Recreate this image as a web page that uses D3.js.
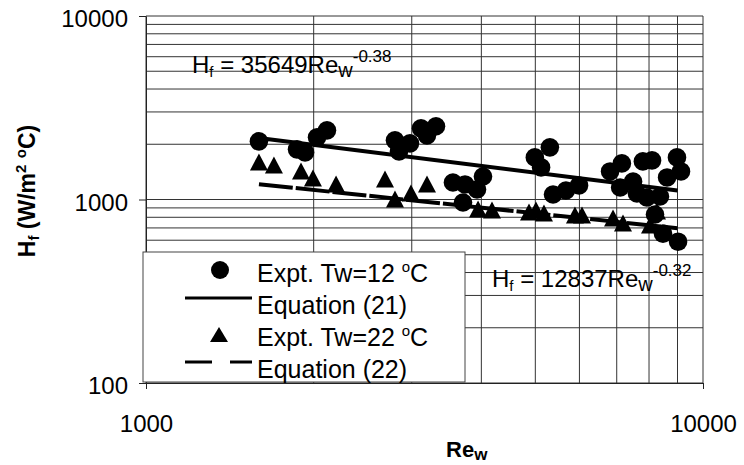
<!DOCTYPE html>
<html>
<head>
<meta charset="utf-8">
<script src="https://cdn.jsdelivr.net/npm/d3@7"></script>
<style>
    body { margin: 0; background: #fff; }
    svg { display: block; font-family: "Liberation Sans", Arial, sans-serif; }
    text { white-space: pre; }
</style>
</head>
<body>
<div id="chart"></div>
<script>
// Expt. Tw = 12 C (circles)
const reCold = [1595, 1867, 1930, 2028, 2113, 2799, 2846, 2978, 3117, 3195, 3316,
    3557, 3739, 4027, 3929, 3708, 4990, 5310, 5120, 5380, 5675, 5990,
    6810, 7150, 7800, 8100, 8980, 9130, 8620, 7100, 7610, 7930, 8370, 8200, 8475, 9020, 7490];
const hCold = [2074, 1876, 1806, 2182, 2382, 2101, 1829, 2023, 2443, 2237, 2506,
    1238, 1208, 1335, 1134, 963, 1696, 1924, 1496, 1065, 1120, 1193,
    1422, 1573, 1613, 1633, 1696, 1422, 1319, 1163, 1078, 1025, 1038, 828, 652, 589, 1254];

// Expt. Tw = 22 C (triangles)
const reWarm = [1595, 1697, 1898, 1994, 2194, 2686, 2799, 2990, 3195, 3946, 4180,
    4871, 5014, 5182, 5890, 6064, 6894, 7184, 8033, 8268];
const hWarm = [1593, 1534, 1422, 1303, 1208, 1287, 1000, 1078, 1208, 882, 871,
    849, 871, 838, 818, 818, 787, 739, 721, 860];

// fitted lines, end points
const eq21Re = [1595, 9000];
const eq21H = [2165, 1120];
const eq22Re = [1595, 9000];
const eq22H = [1212, 697];

const xTicks = [1000, 10000];
const yTicks = [100, 1000, 10000];
const legendItems = ["circle", "line", "triangle", "dash"];

function richText(sel, parts) {
    let shift = 0;
    parts.forEach(p => {
        const off = p.shift || 0;
        sel.append("tspan")
            .attr("dy", off - shift)
            .attr("font-size", p.size)
            .text(p.t);
        shift = off;
    });
}

function main() {
    const canvasWidth = 744;
    const canvasHeight = 465;
    const plot = { left: 146, right: 703, top: 16, bottom: 383 };

    const svg = d3.select("#chart").append("svg")
        .attr("width", canvasWidth)
        .attr("height", canvasHeight);

    const xScale = d3.scaleLog().domain([1000, 10000]).range([plot.left, plot.right]);
    const yScale = d3.scaleLog().domain([100, 10000]).range([plot.bottom, plot.top]);

    // grid
    const grid = svg.append("g");
    grid.selectAll(".vg").data(xScale.ticks()).enter().append("line")
        .attr("x1", d => xScale(d)).attr("x2", d => xScale(d))
        .attr("y1", plot.top).attr("y2", plot.bottom)
        .attr("stroke", "#333").attr("stroke-width", 1);
    grid.selectAll(".hg").data(yScale.ticks()).enter().append("line")
        .attr("x1", plot.left).attr("x2", plot.right)
        .attr("y1", d => yScale(d)).attr("y2", d => yScale(d))
        .attr("stroke", "#333").attr("stroke-width", 1);

    // axes
    const yAxis = svg.append("g")
        .attr("transform", "translate(" + plot.left + ",0)")
        .call(d3.axisLeft(yScale).tickValues(yTicks).tickSize(7).tickSizeOuter(0)
            .tickPadding(11).tickFormat(d3.format("d")));
    yAxis.selectAll("text").attr("font-size", 24).attr("fill", "#000").attr("dy", "0.45em")
        .attr("font-family", "Liberation Sans, Arial, sans-serif");

    const xAxis = svg.append("g")
        .attr("transform", "translate(0," + plot.bottom + ")")
        .call(d3.axisBottom(xScale).tickValues(xTicks).tickSize(6).tickSizeOuter(0)
            .tickPadding(26).tickFormat(d3.format("d")));
    xAxis.selectAll("text").attr("font-size", 24).attr("fill", "#000")
        .attr("font-family", "Liberation Sans, Arial, sans-serif");
    svg.selectAll(".domain, .tick line").attr("stroke", "#222");

    // fit lines
    const line = d3.line().x(d => xScale(d[0])).y(d => yScale(d[1]));
    svg.append("path")
        .datum(d3.zip(eq21Re, eq21H))
        .attr("d", line)
        .attr("stroke", "#000").attr("stroke-width", 4).attr("fill", "none");
    svg.append("path")
        .datum(d3.zip(eq22Re, eq22H))
        .attr("d", line)
        .attr("stroke", "#000").attr("stroke-width", 4).attr("fill", "none")
        .attr("stroke-dasharray", "34,3");

    // points
    svg.append("g").selectAll("circle")
        .data(d3.zip(reCold, hCold))
        .enter().append("circle")
        .attr("cx", d => xScale(d[0]))
        .attr("cy", d => yScale(d[1]))
        .attr("r", 9.3)
        .attr("fill", "#000");

    svg.append("g").selectAll("path")
        .data(d3.zip(reWarm, hWarm))
        .enter().append("path")
        .attr("d", "M0,-9L9,8L-9,8Z")
        .attr("transform", d => "translate(" + xScale(d[0]) + "," + yScale(d[1]) + ")")
        .attr("fill", "#000");

    // equations
    richText(svg.append("text").attr("x", 192).attr("y", 73), [
        { t: "H", size: 24 }, { t: "f", size: 15, shift: 4 },
        { t: " = 35649Re", size: 24 }, { t: "w", size: 20, shift: 4 },
        { t: "-0.38", size: 17, shift: -11 }
    ]);
    richText(svg.append("text").attr("x", 492).attr("y", 287), [
        { t: "H", size: 24 }, { t: "f", size: 15, shift: 4 },
        { t: " = 12837Re", size: 24 }, { t: "w", size: 20, shift: 4 },
        { t: "-0.32", size: 17, shift: -11 }
    ]);

    // axis titles
    const xt = svg.append("text").attr("x", 446).attr("y", 457).attr("font-weight", "bold");
    richText(xt, [{ t: "Re", size: 22 }, { t: "w", size: 17, shift: 3 }]);

    const yt = svg.append("text")
        .attr("transform", "translate(35,191) rotate(-90)")
        .attr("text-anchor", "middle").attr("font-weight", "bold");
    richText(yt, [
        { t: "H", size: 23 }, { t: "f", size: 15, shift: 4 },
        { t: " (W/m", size: 23 }, { t: "2", size: 15, shift: -9 },
        { t: " ", size: 23 }, { t: "o", size: 15, shift: -9 },
        { t: "C)", size: 23 }
    ]);

    // legend
    const lg = svg.append("g");
    lg.append("rect")
        .attr("x", 143).attr("y", 252).attr("width", 322).attr("height", 130)
        .attr("fill", "#fff").attr("stroke", "#444").attr("stroke-width", 1);

    const labels = [
        [{ t: "Expt. Tw=12 ", size: 25 }, { t: "o", size: 15, shift: -10 }, { t: "C", size: 25 }],
        [{ t: "Equation (21)", size: 25 }],
        [{ t: "Expt. Tw=22 ", size: 25 }, { t: "o", size: 15, shift: -10 }, { t: "C", size: 25 }],
        [{ t: "Equation (22)", size: 25 }]
    ];
    legendItems.forEach((kind, i) => {
        const base = 282 + 32 * i;
        if (kind === "circle") {
            lg.append("circle").attr("cx", 220).attr("cy", base - 12).attr("r", 9).attr("fill", "#000");
        } else if (kind === "triangle") {
            lg.append("path").attr("d", "M0,-8L9,7L-9,7Z")
                .attr("transform", "translate(219," + (base - 11) + ")").attr("fill", "#000");
        } else {
            const l = lg.append("line")
                .attr("x1", 185).attr("x2", 252)
                .attr("y1", base - 16).attr("y2", base - 16)
                .attr("stroke", "#000").attr("stroke-width", 3);
            if (kind === "dash") l.attr("stroke-dasharray", "27,18");
        }
        richText(lg.append("text").attr("x", 257).attr("y", base), labels[i]);
    });
}
main();
</script>
</body>
</html>
